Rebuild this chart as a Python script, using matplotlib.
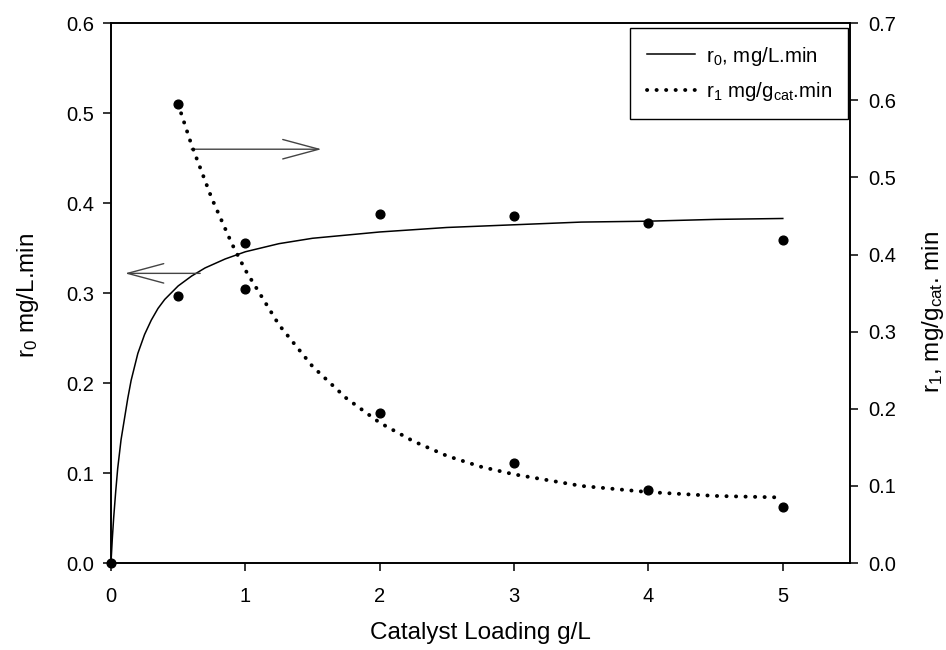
import matplotlib
matplotlib.use("Agg")
import matplotlib.pyplot as plt

plt.rcParams['font.family'] = ['Liberation Sans', 'DejaVu Sans']
plt.rcParams['mathtext.fontset'] = 'custom'
plt.rcParams['mathtext.rm'] = 'Liberation Sans'
plt.rcParams['mathtext.it'] = 'Liberation Sans:italic'

# measured points
loading = [0, 0.5, 1, 2, 3, 4, 5]
r0_meas = [0.0, 0.297, 0.356, 0.388, 0.386, 0.378, 0.359]
loading_r1 = [0.5, 1, 2, 3, 4, 5]
r1_meas = [0.595, 0.356, 0.195, 0.130, 0.095, 0.073]

# fitted curves
fit0_x = [0, 0.01, 0.02, 0.035, 0.05, 0.075, 0.1, 0.125, 0.15, 0.2, 0.25, 0.3, 0.35, 0.4, 0.5, 0.6,
          0.7, 0.85, 1.0, 1.25, 1.5, 2.0, 2.5, 3.0, 3.5, 4.0, 4.5, 5.0]
fit0_y = [0.0, 0.027, 0.050, 0.079, 0.105, 0.137, 0.160, 0.183, 0.203, 0.233, 0.254, 0.270, 0.283,
          0.293, 0.308, 0.319, 0.328, 0.338, 0.346, 0.355, 0.361, 0.368, 0.373, 0.376, 0.379, 0.380,
          0.382, 0.383]
fit1_x = [0.5, 0.6, 0.75, 0.9, 1.0, 1.25, 1.5, 1.75, 2.0, 2.25, 2.5, 2.75, 3.0, 3.5, 4.0, 4.5, 5.0]
fit1_y = [0.595, 0.542, 0.473, 0.414, 0.380, 0.309, 0.255, 0.214, 0.182, 0.158, 0.139, 0.125, 0.115,
          0.100, 0.092, 0.087, 0.085]

fig = plt.figure(figsize=(9.46, 6.5), dpi=100)
ax = fig.add_axes([0.1173, 0.1338, 0.7812, 0.8304])
ax2 = ax.twinx()

l0, = ax.plot(fit0_x, fit0_y, color='black', lw=1.1, label=r'r$_\mathrm{0}$, mg/L.min')
ax.plot(loading, r0_meas, 'o', color='black', ms=6.3, clip_on=False, zorder=5)

l1, = ax2.plot(fit1_x, fit1_y, color='black', lw=2.8, linestyle=(0, (0.05, 2.4)),
               dash_capstyle='round', label=r'r$_\mathrm{1}$ mg/g$_\mathrm{cat}$.min')
ax2.plot(loading_r1, r1_meas, 'o', color='black', ms=6.3, clip_on=False, zorder=5)

ax.set_xlim(0, 5.5)
ax.set_ylim(0, 0.6)
ax2.set_ylim(0, 0.7)
ax.set_xticks([0, 1, 2, 3, 4, 5])
ax.set_yticks([0.0, 0.1, 0.2, 0.3, 0.4, 0.5, 0.6])
ax2.set_yticks([0.0, 0.1, 0.2, 0.3, 0.4, 0.5, 0.6, 0.7])
ax.set_yticklabels(['%.1f' % v for v in ax.get_yticks()])
ax2.set_yticklabels(['%.1f' % v for v in ax2.get_yticks()])

for a in (ax, ax2):
    for s in a.spines.values():
        s.set_linewidth(1.2)
ax.tick_params(axis='both', direction='out', length=5.5, width=1.1, labelsize=14.5)
ax.tick_params(axis='y', pad=6.5)
ax.tick_params(axis='x', pad=12)
ax2.tick_params(axis='y', direction='out', length=5.5, width=1.1, labelsize=14.5, pad=7.5)

ax.set_xlabel('Catalyst Loading g/L', fontsize=17.5, labelpad=11)
fig.text(28 / 946, 1 - 295 / 650, r'r$_\mathrm{0}$ mg/L.min', fontsize=17.5,
         rotation=90, ha='center', va='center')
fig.text(933 / 946, 1 - 312 / 650, r'r$_\mathrm{1}$, mg/g$_\mathrm{cat}$. min', fontsize=17.5,
         rotation=90, ha='center', va='center')

# arrows pointing to each axis
arrow = dict(arrowstyle='->,head_length=2.6,head_width=0.7', color='#444444', lw=1.0,
             shrinkA=0, shrinkB=0, mutation_scale=10)
ax.annotate('', xy=(0.104, 0.322), xytext=(0.664, 0.322), arrowprops=arrow)
ax.annotate('', xy=(1.567, 0.460), xytext=(0.597, 0.460), arrowprops=arrow)

leg = ax2.legend(handles=[l0, l1], loc='upper right', bbox_to_anchor=(0.9973, 0.991),
                 borderaxespad=0, fancybox=False, edgecolor='black', framealpha=1,
                 fontsize=14.8, handlelength=2.35, handletextpad=0.5, labelspacing=0.6,
                 borderpad=0.8)
leg.get_frame().set_linewidth(1.0)

fig.savefig('out.png', dpi=100)
